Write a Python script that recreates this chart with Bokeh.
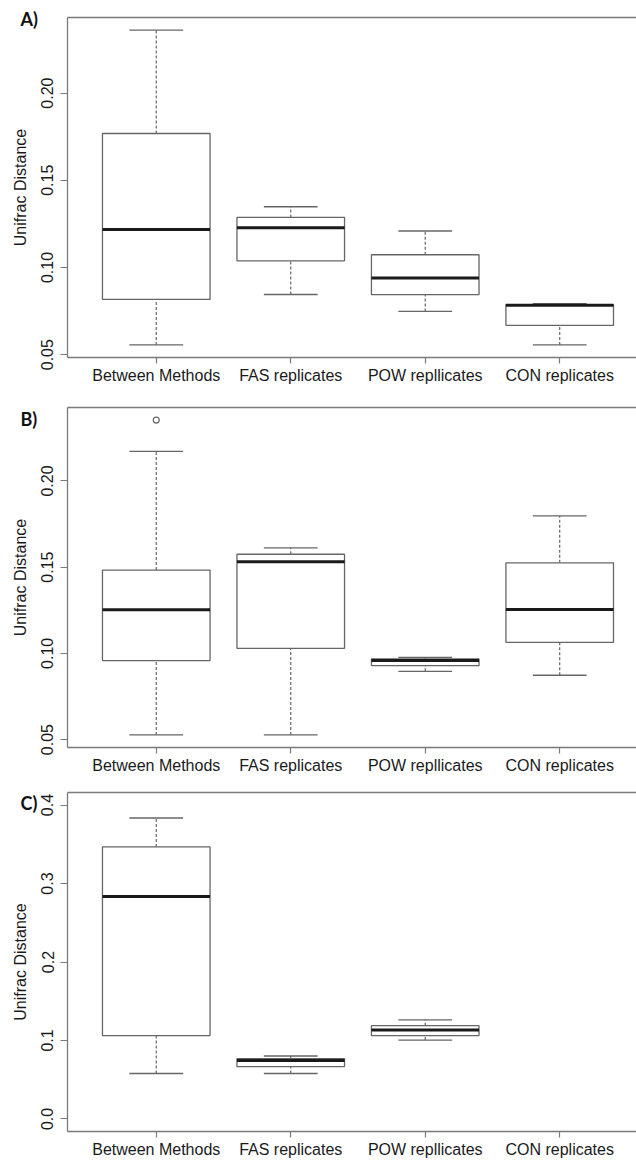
from bokeh.plotting import figure
from bokeh.layouts import column
from bokeh.models import Range1d, FixedTicker, LinearAxis, PrintfTickFormatter
from bokeh.core.properties import value
from bokeh.embed import file_html
from bokeh.resources import INLINE

categories = ["Between Methods", "FAS replicates", "POW repllicates", "CON replicates"]
positions = [1, 2, 3, 4]

# Panel A
a_low = [0.0556, 0.0845, 0.0748, 0.0556]
a_q1 = [0.0817, 0.1038, 0.0844, 0.0668]
a_med = [0.1218, 0.1228, 0.0939, 0.0783]
a_q3 = [0.1768, 0.1287, 0.1073, 0.0787]
a_high = [0.2361, 0.1348, 0.1209, 0.0792]
a_out_x, a_out_y = [], []

# Panel B
b_low = [0.0527, 0.0527, 0.0896, 0.0873]
b_q1 = [0.0958, 0.1029, 0.0929, 0.1064]
b_med = [0.1253, 0.1532, 0.0958, 0.1254]
b_q3 = [0.1483, 0.1575, 0.0968, 0.1525]
b_high = [0.2172, 0.1612, 0.0977, 0.1797]
b_out_x, b_out_y = [1], [0.2353]

# Panel C (no data for CON replicates)
c_low = [0.0579, 0.0579, 0.1005]
c_q1 = [0.1063, 0.0666, 0.1063]
c_med = [0.2835, 0.0744, 0.1132]
c_q3 = [0.3467, 0.0768, 0.1188]
c_high = [0.3835, 0.0802, 0.1263]
c_out_x, c_out_y = [], []
c_ylim = (0.0, 0.4)

ticks_ab = [0.05, 0.10, 0.15, 0.20]
ticks_c = [0.0, 0.1, 0.2, 0.3, 0.4]

FONT = "Liberation Sans"
LINE = "#666666"
FRAME = "#7a7a7a"
TXT = "#1a1a1a"

W = 636
LEFT = 67
X0, X1 = 0.34, 4.571


def make_panel(tag, tag_drop, low, q1, med, q3, high, out_x, out_y, ylim, ticks, fmt,
               height, top, bottom):
    if ylim is None:
        lo = min(low + out_y)
        hi = max(high + out_y)
    else:
        lo, hi = ylim
    pad = 0.04 * (hi - lo)
    y0, y1 = lo - pad, hi + pad
    p = figure(width=W, height=height, output_backend="svg", toolbar_location=None,
               x_range=Range1d(X0, X1), y_range=Range1d(y0, y1),
               min_border_left=LEFT, min_border_right=0, min_border_top=top,
               min_border_bottom=bottom, x_axis_type=None, y_axis_type=None)
    p.grid.visible = False
    p.outline_line_color = None
    p.background_fill_color = "white"
    p.border_fill_color = "white"

    n = len(med)
    xs = positions[:n]
    # whiskers (dashed)
    p.segment(x0=xs, y0=q3, x1=xs, y1=high, line_color=LINE, line_width=1.2, line_dash="3 2")
    p.segment(x0=xs, y0=low, x1=xs, y1=q1, line_color=LINE, line_width=1.2, line_dash="3 2")
    # caps
    p.segment(x0=[x - 0.2 for x in xs], y0=high, x1=[x + 0.2 for x in xs], y1=high,
              line_color=LINE, line_width=1.3)
    p.segment(x0=[x - 0.2 for x in xs], y0=low, x1=[x + 0.2 for x in xs], y1=low,
              line_color=LINE, line_width=1.3)
    # boxes
    p.quad(left=[x - 0.4 for x in xs], right=[x + 0.4 for x in xs], bottom=q1, top=q3,
           fill_color="white", line_color=LINE, line_width=1.3)
    # medians
    p.segment(x0=[x - 0.4 for x in xs], y0=med, x1=[x + 0.4 for x in xs], y1=med,
              line_color="#1a1a1a", line_width=3)
    if out_x:
        p.scatter(x=out_x, y=out_y, size=6, marker="circle", fill_color=None,
                  line_color=LINE, line_width=1.2)

    yaxis = LinearAxis(ticker=FixedTicker(ticks=ticks), formatter=PrintfTickFormatter(format=fmt),
                       axis_label="Unifrac Distance")
    yaxis.major_label_orientation = "vertical"
    yaxis.axis_line_color = FRAME
    yaxis.axis_line_width = 1.3
    yaxis.major_tick_line_color = FRAME
    yaxis.major_tick_line_width = 1.2
    yaxis.major_tick_out = 7
    yaxis.major_tick_in = 0
    yaxis.minor_tick_line_color = None
    yaxis.major_label_standoff = 7
    yaxis.major_label_text_font = FONT
    yaxis.major_label_text_font_size = "16px"
    yaxis.major_label_text_color = TXT
    yaxis.axis_label_text_font = FONT
    yaxis.axis_label_text_font_size = "16px"
    yaxis.axis_label_text_font_style = "normal"
    yaxis.axis_label_text_color = TXT
    yaxis.axis_label_standoff = 10
    p.add_layout(yaxis, "left")

    xaxis = LinearAxis(ticker=FixedTicker(ticks=positions),
                       major_label_overrides={pos: c for pos, c in zip(positions, categories)})
    xaxis.axis_line_color = FRAME
    xaxis.axis_line_width = 1.3
    xaxis.major_tick_line_color = FRAME
    xaxis.major_tick_line_width = 1.2
    xaxis.major_tick_out = 6
    xaxis.major_tick_in = 0
    xaxis.minor_tick_line_color = None
    xaxis.major_label_standoff = 3
    xaxis.major_label_text_font = FONT
    xaxis.major_label_text_font_size = "16px"
    xaxis.major_label_text_color = TXT
    p.add_layout(xaxis, "below")

    top_axis = LinearAxis(ticker=FixedTicker(ticks=[]))
    top_axis.axis_line_color = FRAME
    top_axis.axis_line_width = 1.3
    top_axis.major_tick_line_color = None
    top_axis.minor_tick_line_color = None
    top_axis.major_label_text_font_size = "0px"
    p.add_layout(top_axis, "above")

    # panel tag, placed just left of the frame's top-left corner
    frame_h = height - top - bottom
    frame_w = W - LEFT
    px_x = frame_w / (X1 - X0)
    px_y = frame_h / (y1 - y0)
    p.text(x=[X0 - 47 / px_x], y=[y1 - tag_drop / px_y], text=[tag], level="overlay",
           text_font=value("Lato"), text_font_size="18px", text_font_style="bold",
           text_color="#111111", text_baseline="alphabetic", text_align="left")
    return p


pa = make_panel("A)", 1.5, a_low, a_q1, a_med, a_q3, a_high, a_out_x, a_out_y, None,
                ticks_ab, "%.2f", 392, 17, 35)
pb = make_panel("B)", 11, b_low, b_q1, b_med, b_q3, b_high, b_out_x, b_out_y, None,
                ticks_ab, "%.2f", 386, 15, 31)
pc = make_panel("C)", 10.5, c_low, c_q1, c_med, c_q3, c_high, c_out_x, c_out_y, c_ylim,
                ticks_c, "%.1f", 382, 14, 28)

layout = column(pa, pb, pc, spacing=0)
open("out.html", "w").write(file_html(layout, INLINE))
